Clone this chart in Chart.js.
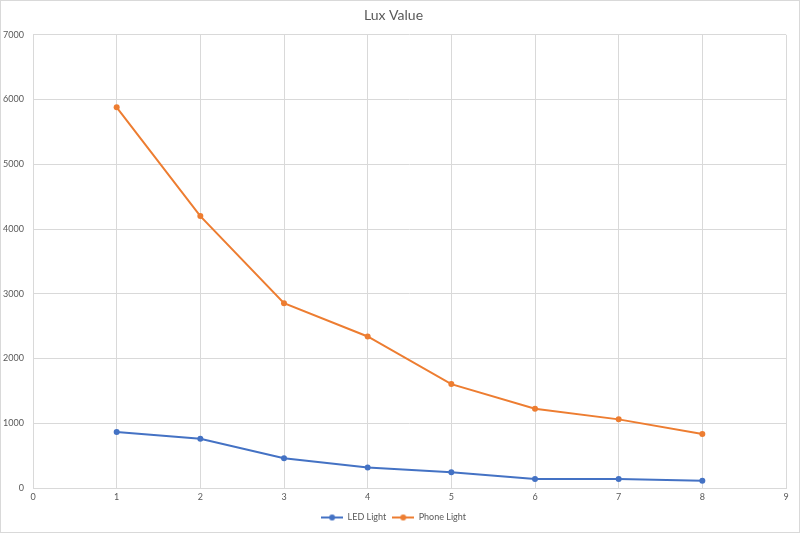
<!DOCTYPE html>
<html>
<head>
<meta charset="utf-8">
<script src="https://cdn.jsdelivr.net/npm/chart.js@4/dist/chart.umd.min.js"></script>
<style>
    html, body { margin: 0; padding: 0; background: #fff; }
    #wrap { width: 800px; height: 533px; box-sizing: border-box; border: 1px solid #d9d9d9; }
    #chart { display: block; }
</style>
</head>
<body>
<div id="wrap"><canvas id="chart" width="798" height="531"></canvas></div>
<script>
    const xValues = [1, 2, 3, 4, 5, 6, 7, 8];
    const ledLight = [865, 760, 460, 318, 243, 140, 140, 113];
    const phoneLight = [5880, 4200, 2855, 2340, 1605, 1225, 1060, 835];

    const BLUE = "#4472c4";
    const ORANGE = "#ed7d31";
    const TEXT = "#595959";
    const GRID = "#d9d9d9";
    const FONT = "Lato, 'Open Sans', sans-serif";

    function legendIcon(color) {
        const c = document.createElement("canvas");
        c.width = 22;
        c.height = 8;
        const g = c.getContext("2d");
        g.strokeStyle = color;
        g.lineWidth = 2;
        g.beginPath();
        g.moveTo(0, 4);
        g.lineTo(22, 4);
        g.stroke();
        g.fillStyle = color;
        g.beginPath();
        g.arc(11, 4, 3, 0, Math.PI * 2);
        g.fill();
        return c;
    }

    function series(label, ys, color) {
        return {
            label,
            data: xValues.map((x, i) => ({ x, y: ys[i] })),
            showLine: true,
            borderColor: color,
            backgroundColor: color,
            borderWidth: 2,
            pointRadius: 3,
            pointStyle: "circle",
            pointBorderWidth: 0,
        };
    }

    new Chart(document.getElementById("chart"), {
        type: "scatter",
        data: {
            datasets: [
                series("LED Light", ledLight, BLUE),
                series("Phone Light", phoneLight, ORANGE),
            ],
        },
        options: {
            responsive: false,
            animation: false,
            layout: { padding: { left: 0, right: 13, top: 0, bottom: 0 } },
            plugins: {
                title: {
                    display: true,
                    text: "Lux Value",
                    color: TEXT,
                    font: { family: FONT, size: 14, weight: "normal" },
                    padding: { top: 6, bottom: 11 },
                },
                legend: {
                    position: "bottom",
                    labels: {
                        color: TEXT,
                        font: { family: FONT, size: 9 },
                        usePointStyle: true,
                        pointStyleWidth: 22,
                        boxHeight: 8,
                        padding: 6,
                        generateLabels: (chart) => chart.data.datasets.map((ds, i) => ({
                            text: ds.label,
                            fontColor: TEXT,
                            pointStyle: legendIcon(ds.borderColor),
                            datasetIndex: i,
                            hidden: false,
                            lineWidth: 0,
                        })),
                    },
                },
                tooltip: { enabled: false },
            },
            scales: {
                x: {
                    type: "linear",
                    min: 0,
                    max: 9,
                    ticks: { stepSize: 1, color: TEXT, font: { family: FONT, size: 9 }, padding: 4 },
                    grid: { color: GRID, drawTicks: false },
                    border: { color: GRID },
                    afterFit: (s) => { s.height = 19; },
                },
                y: {
                    min: 0,
                    max: 7000,
                    ticks: {
                        stepSize: 1000,
                        color: TEXT,
                        font: { family: FONT, size: 9 },
                        padding: 9,
                        callback: (v) => String(v),
                    },
                    grid: { color: GRID, drawTicks: false },
                    border: { display: false },
                    afterFit: (s) => { s.width = 32; },
                },
            },
        },
    });
</script>
</body>
</html>
